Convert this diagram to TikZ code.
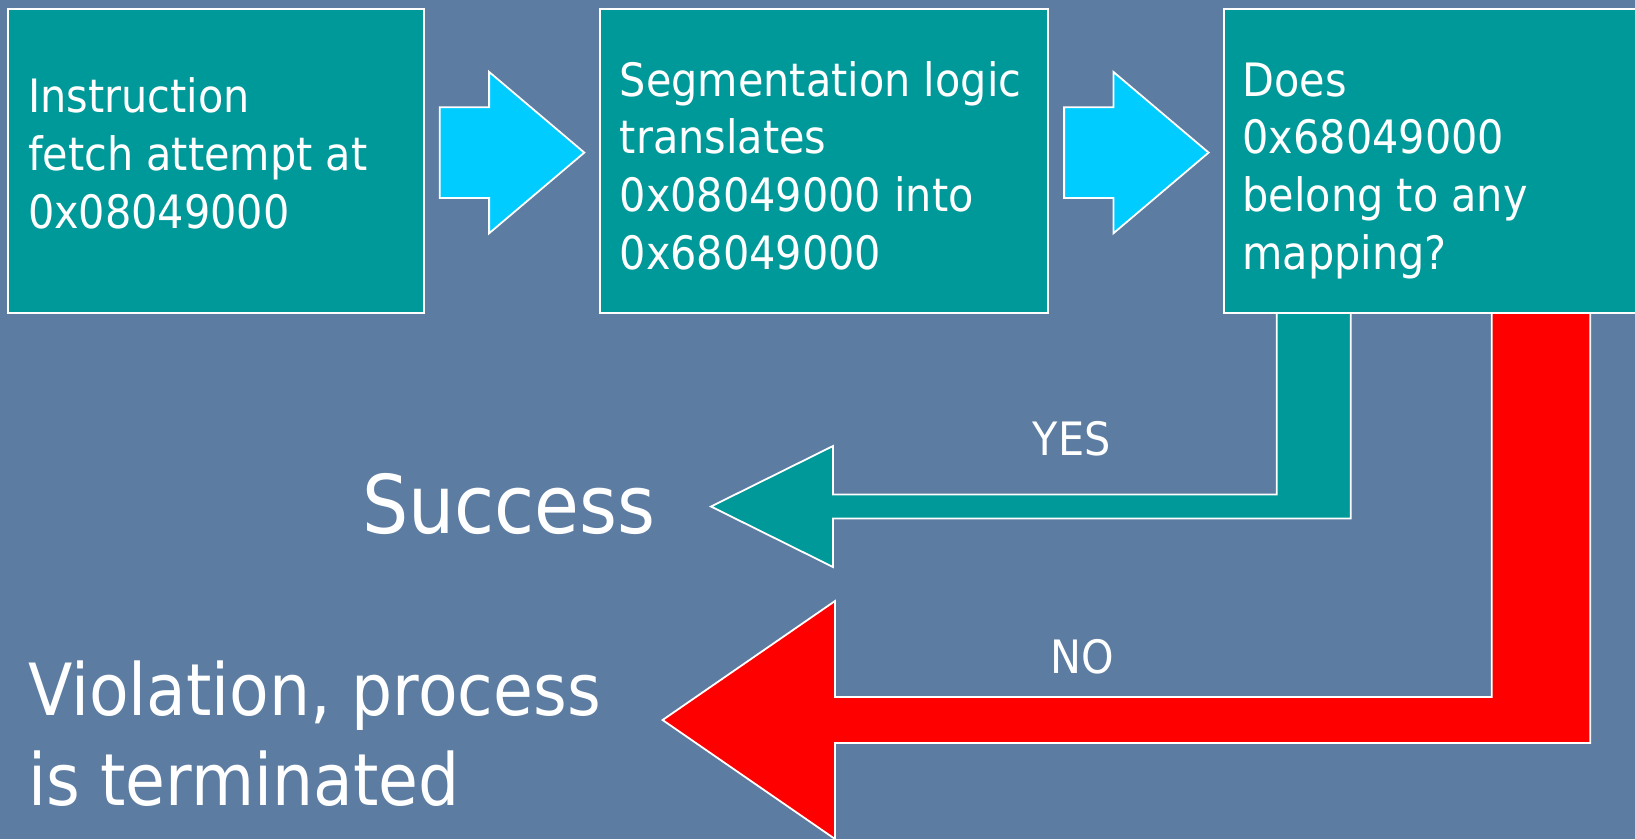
\documentclass[tikz,border=0pt]{standalone}
\usepackage{fontspec}
\newfontfamily\slidefont{DejaVu Sans}[FakeStretch=0.9]
\definecolor{slidebg}{RGB}{92,124,162}
\definecolor{tealbox}{RGB}{0,153,153}
\definecolor{cyanarrow}{RGB}{0,204,255}
\definecolor{stopred}{RGB}{255,0,0}

\begin{document}
\begin{tikzpicture}[x=1pt,y=-1pt,
  box/.style={draw=white, line width=1.8pt, fill=tealbox, anchor=north west,
    inner sep=0pt, minimum height=304pt},
  % multi-line captions are placed by the baseline of their last line
  boxtext/.style={text=white, inner sep=0pt, anchor=base west, align=left,
    font=\slidefont\fontsize{46}{57.7}\selectfont},
  label/.style={text=white, inner sep=0pt, anchor=base west,
    font=\slidefont\fontsize{46}{57.7}\selectfont},
  outcome/.style={text=white, inner sep=0pt, anchor=base west, align=left},
  blockarrow/.style={draw=white, line width=1.8pt, line join=miter},
  rightblock/.pic={
    \draw[blockarrow, fill=cyanarrow]
      (0,-45.3) -- (49.3,-45.3) -- (49.3,-80.7) -- (144.5,0)
      -- (49.3,80.7) -- (49.3,45.3) -- (0,45.3) -- cycle;
  }]

% slide background
\useasboundingbox (0,0) rectangle (1635,839);
\clip (0,0) rectangle (1635,839);
\fill[slidebg] (0,0) rectangle (1635,839);

% bent outcome arrows, drawn first so the decision box covers their tops
\coordinate (yestip) at (711,506.5);
\coordinate (notip) at (662.6,720);
\draw[blockarrow, fill=tealbox]
  (1276.7,300) -- (1276.7,494.5) -- (833,494.5) -- (833,446)
  -- (yestip) -- (833,567) -- (833,518.5) -- (1350.7,518.5)
  -- (1350.7,300) -- cycle;
\draw[blockarrow, fill=stopred]
  (1491.7,300) -- (1491.7,697) -- (835,697) -- (835,601)
  -- (notip) -- (835,839) -- (835,743) -- (1590.3,743)
  -- (1590.3,300) -- cycle;

% process boxes
\node[box, minimum width=416pt] (fetch) at (7,8) {};
\node[box, minimum width=448.5pt] (translate) at (598.8,8) {};
\node[box, minimum width=450pt] (check) at (1222.7,8) {};

% arrows between the boxes
\pic (step1) at ([xshift=15pt, yshift=8.3pt]fetch.east) {rightblock};
\pic (step2) at ([xshift=15pt, yshift=8.3pt]translate.east) {rightblock};

% box captions
\node[boxtext] (fetchtxt) at (27.8,228.3)
  {Instruction\\fetch attempt at\\0x08049000};
\node[boxtext] (translatetxt) at (619.6,269.3)
  {Segmentation logic\\translates\\0x08049000 into\\0x68049000};
\node[boxtext] (checktxt) at (1242.3,269.3)
  {Does\\0x68049000\\belong to any\\mapping?};

% branch labels
\node[label] (yes) at (1032.5,455) {YES};
\node[label] (no) at (1050.5,673.3) {NO};

% outcomes
\node[outcome, font=\slidefont\fontsize{81}{97}\selectfont] (success)
  at (362,533.3) {Success};
\node[outcome, font=\slidefont\fontsize{72}{90}\selectfont] (violation)
  at (28,805) {Violation, process\\is terminated};
\end{tikzpicture}
\end{document}
